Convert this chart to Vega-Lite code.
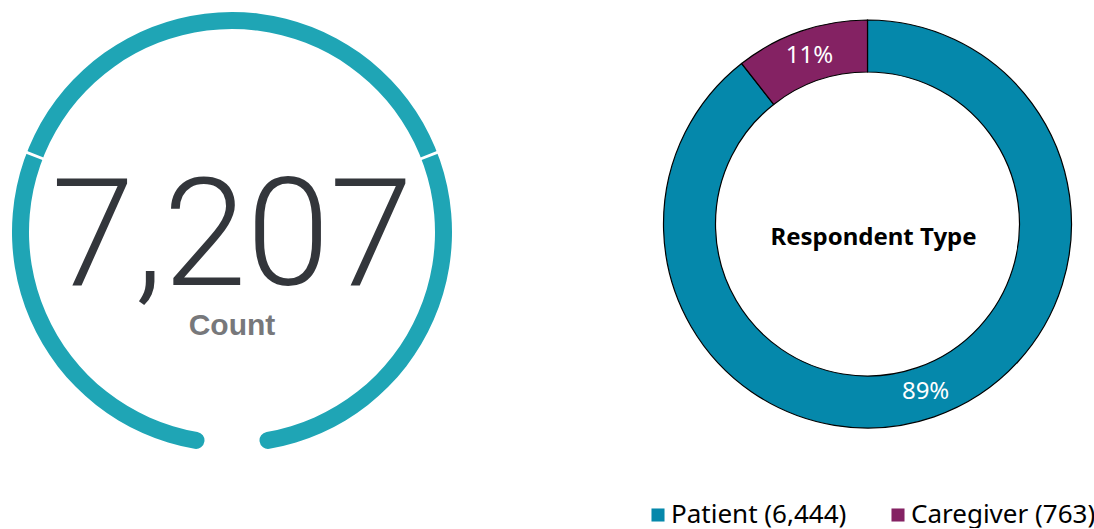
{
  "$schema": "https://vega.github.io/schema/vega-lite/v6.json",
  "padding": 0,
  "spacing": 177,
  "background": "white",
  "config": {"view": {"stroke": null}},
  "hconcat": [
    {
      "width": 464,
      "height": 464,
      "layer": [
        {
          "data": {"values": [{"start": -172.5, "end": 172.5}]},
          "mark": {"type": "arc", "radius": 220, "radius2": 203, "cornerRadius": 8.5, "color": "#1fa5b5"},
          "encoding": {
            "theta": {"field": "start", "type": "quantitative", "stack": null, "scale": {"domain": [0, 360], "range": [0, 6.283185307]}},
            "theta2": {"field": "end"}
          }
        },
        {
          "data": {"values": [{"start": 68.4, "end": 69.2}, {"start": -69.2, "end": -68.4}]},
          "mark": {"type": "arc", "radius": 223, "radius2": 200, "color": "white"},
          "encoding": {
            "theta": {"field": "start", "type": "quantitative", "stack": null},
            "theta2": {"field": "end"}
          }
        },
        {
          "data": {"values": [{"count": 7207, "label": "Count"}]},
          "layer": [
            {
              "mark": {"type": "text", "font": "Roboto", "fontWeight": 300, "fontSize": 150, "color": "#33363b", "baseline": "alphabetic", "align": "center", "dy": 53},
              "encoding": {"text": {"field": "count", "type": "quantitative", "format": ","}}
            },
            {
              "mark": {"type": "text", "font": "Liberation Sans", "fontWeight": "bold", "fontSize": 30, "color": "#77787b", "baseline": "alphabetic", "align": "center", "dy": 103},
              "encoding": {"text": {"field": "label", "type": "nominal"}}
            }
          ]
        }
      ]
    },
    {
      "width": 453,
      "height": 448,
      "data": {"values": [
        {"type": "Patient", "count": 6444, "pct": 0.894, "rank": 1},
        {"type": "Caregiver", "count": 763, "pct": 0.106, "rank": 2}
      ]},
      "layer": [
        {
          "mark": {"type": "arc", "radius": 204, "radius2": 152, "stroke": "black", "strokeWidth": 1.2},
          "encoding": {
            "theta": {"field": "count", "type": "quantitative", "stack": true},
            "order": {"field": "rank", "type": "quantitative"},
            "color": {
              "field": "type",
              "type": "nominal",
              "scale": {"domain": ["Patient", "Caregiver"], "range": ["#0588ab", "#842263"]},
              "legend": {
                "title": null,
                "orient": "none",
                "legendX": 645,
                "legendY": 502,
                "direction": "horizontal",
                "symbolType": "square",
                "symbolSize": 170,
                "symbolStrokeWidth": 0,
                "labelFont": "Noto Sans",
                "labelFontSize": 26,
                "labelColor": "black",
                "labelOffset": 0,
                "columnPadding": 38,
                "labelLimit": 400,
                "labelExpr": "datum.label == 'Patient' ? 'Patient (6,444)' : 'Caregiver (763)'"
              }
            }
          }
        },
        {
          "mark": {"type": "text", "radius": 178, "font": "Noto Sans", "fontSize": 24, "color": "white"},
          "encoding": {
            "theta": {"field": "count", "type": "quantitative", "stack": true},
            "order": {"field": "rank", "type": "quantitative"},
            "text": {"field": "pct", "type": "quantitative", "format": ".0%"}
          }
        },
        {
          "data": {"values": [{"title": "Respondent Type"}]},
          "mark": {"type": "text", "font": "Noto Sans", "fontWeight": "bold", "fontSize": 24, "color": "black", "baseline": "alphabetic", "align": "center", "dx": 6, "dy": 21},
          "encoding": {"text": {"field": "title", "type": "nominal"}}
        }
      ]
    }
  ]
}
